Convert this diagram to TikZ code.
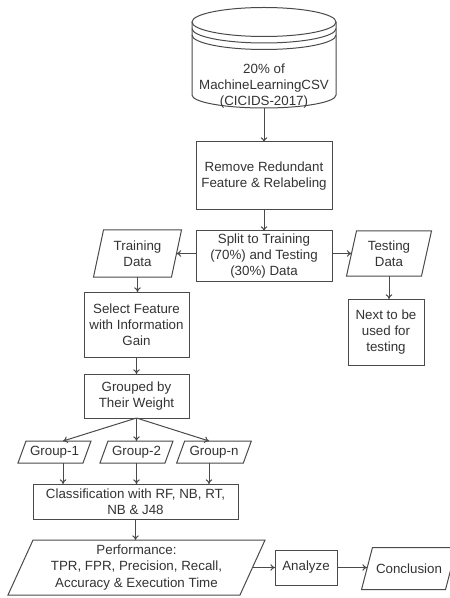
\documentclass[tikz,border=0pt]{standalone}
\usepackage{fontspec}
\setmainfont{Liberation Sans}
\usetikzlibrary{arrows.meta}
\definecolor{ln}{HTML}{4A4A4A}
\definecolor{tx}{HTML}{333333}
\tikzset{
  line/.style={draw=ln, line width=0.75pt},
  conn/.style={line, -{To[length=3.5pt,width=5pt]}},
  box/.style={line, rectangle, inner sep=0pt, outer sep=0pt, align=center, text=tx, font=\fontsize{10}{12.2}\selectfont},
  pbox/.style={rectangle, draw=none, inner sep=0pt, outer sep=0pt, align=center, text=tx, font=\fontsize{10}{12.2}\selectfont},
}
\newcommand\paraframe[2]{\draw[line] ([xshift=#2]#1.north west) -- ([xshift=#2]#1.north east) -- ([xshift=-#2]#1.south east) -- ([xshift=-#2]#1.south west) -- cycle;}
\begin{document}
\begin{tikzpicture}[x=0.75pt,y=-0.75pt]
\fill[white] (0,0) rectangle (449,598);
\useasboundingbox (0,0) rectangle (449,598);
% cylinder
\node[pbox, minimum width=108pt, minimum height=75pt] (db) at (264,58) {};
\draw[line] (264,22) ellipse [x radius=54pt, y radius=10.875pt];
\draw[line] (192,28.5) arc[start angle=180, end angle=360, x radius=54pt, y radius=10.875pt];
\draw[line] (192,35) arc[start angle=180, end angle=360, x radius=54pt, y radius=10.875pt];
\draw[line] (192,22) -- (192,95) arc[start angle=180, end angle=360, x radius=54pt, y radius=9.75pt] -- (336,22);
\node[pbox] (dbtext) at (264,86) {20\% of\\MachineLearningCSV\\(CICIDS-2017)};
% boxes
\node[box, minimum width=102pt, minimum height=51pt] (remove) at (264,176) {Remove Redundant\\Feature \& Relabeling};
\node[box, minimum width=102pt, minimum height=37.5pt] (split) at (264,256) {Split to Training\\(70\%) and Testing\\(30\%) Data};
\node[pbox, minimum width=58.5pt, minimum height=35.25pt] (train) at (137.5,253.5) {Training\\Data};
\paraframe{train}{3.75pt}
\node[pbox, minimum width=56.25pt, minimum height=33.75pt] (test) at (389,253.5) {Testing\\Data};
\paraframe{test}{3.75pt}
\node[box, minimum width=57pt, minimum height=49.5pt] (next) at (386,332) {Next to be\\used for\\testing};
\node[box, minimum width=78.75pt, minimum height=48.75pt] (select) at (136.5,324.5) {Select Feature\\with Information\\Gain};
\node[box, minimum width=78.75pt, minimum height=33pt] (grouped) at (136.5,396) {Grouped by\\Their Weight};
\node[pbox, minimum width=48.75pt, minimum height=16.5pt] (g1) at (54.5,452) {Group-1};
\paraframe{g1}{3pt}
\node[pbox, minimum width=48.75pt, minimum height=16.5pt] (g2) at (136.5,452) {Group-2};
\paraframe{g2}{3pt}
\node[pbox, minimum width=50pt, minimum height=16.5pt] (g3) at (214,452) {Group-n};
\paraframe{g3}{3pt}
\node[box, minimum width=153.75pt, minimum height=26.25pt] (cls) at (135.5,501.5) {Classification with RF, NB, RT,\\NB \& J48};
\node[pbox, minimum width=174pt, minimum height=41.25pt] (perf) at (136.5,567.5) {Performance:\\TPR, FPR, Precision, Recall,\\Accuracy \& Execution Time};
\paraframe{perf}{9.4pt}
\node[box, minimum width=46.5pt, minimum height=26.25pt] (analyze) at (306,567.5) {Analyze};
\node[pbox, minimum width=63pt, minimum height=31.5pt] (concl) at (409,568.5) {Conclusion};
\paraframe{concl}{4.1pt}
% connectors
\draw[conn] (db.south) -- (remove.north);
\draw[conn] (remove.south) -- (split.north);
\draw[conn] (split.west |- train.east) -- (train.east);
\draw[conn] (split.east |- test.west) -- (test.west);
\draw[conn] (test.south) -- (test.south |- next.north);
\draw[conn] (train.south) -- (train.south |- select.north);
\draw[conn] (select.south) -- (grouped.north);
\draw[conn] (grouped.south) -- ([xshift=6.4pt]g1.north);
\draw[conn] (grouped.south) -- (g2.north);
\draw[conn] (grouped.south) -- ([xshift=-3.75pt]g3.north);
\draw[conn] ([xshift=6.4pt]g1.south) -- ([xshift=6.4pt]g1.south |- cls.north);
\draw[conn] (g2.south) -- (g2.south |- cls.north);
\draw[conn] ([xshift=-3.75pt]g3.south) -- ([xshift=-3.75pt]g3.south |- cls.north);
\draw[conn] (cls.south) -- (cls.south |- perf.north);
\draw[conn] (perf.east) -- (perf.east -| analyze.west);
\draw[conn] (analyze.east) -- (analyze.east -| concl.west);
\end{tikzpicture}
\end{document}
